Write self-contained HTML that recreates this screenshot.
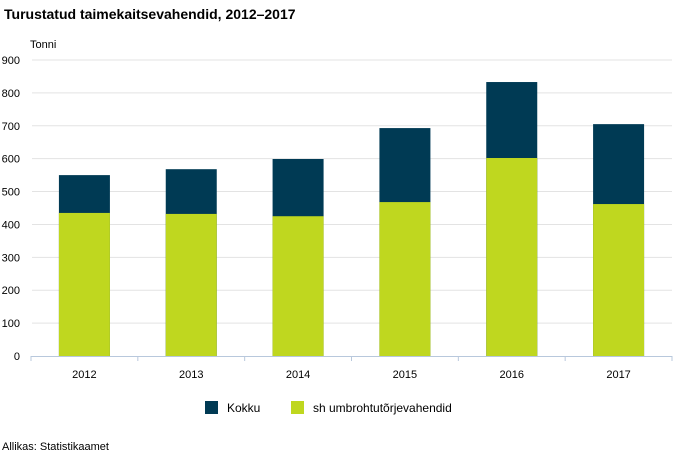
<!DOCTYPE html>
<html><head><meta charset="utf-8"><style>
body{margin:0;background:#fff;font-family:"Liberation Sans",Arial,sans-serif}
svg{display:block}
</style></head><body>
<svg id="c" width="685" height="456">
<text x="4" y="19" font-size="14" font-weight="bold" fill="#000">Turustatud taimekaitsevahendid, 2012–2017</text>
<text x="30" y="48" font-size="11" fill="#000">Tonni</text>
<g id="grid"></g><g id="bars"></g><g id="axis"></g>
<g>
<rect x="205" y="401" width="13" height="13" fill="#003a54"/>
<text x="227" y="412" font-size="12">Kokku</text>
<rect x="291" y="401" width="13" height="13" fill="#bfd71f"/>
<text x="313" y="412" font-size="12">sh umbrohtutõrjevahendid</text>
</g>
<text x="2" y="450" font-size="11">Allikas: Statistikaamet</text>
</svg>
<script>
const categories=["2012","2013","2014","2015","2016","2017"];
const totalValues=[550,568,599,693,833,705];
const herbicideValues=[435,432,425,468,602,462];
const yTicks=[0,100,200,300,400,500,600,700,800,900];
const NS="http://www.w3.org/2000/svg";
const x0=31,x1=672,y0=356,yTop=60,yMax=900;
const y=v=>y0-(v/yMax)*(y0-yTop);
const bw=(x1-x0)/categories.length;
const xc=i=>x0+bw*(i+0.5);
function mk(t,a,p){const e=document.createElementNS(NS,t);for(const k in a)e.setAttribute(k,a[k]);p.appendChild(e);return e;}
const g=document.getElementById('grid'),b=document.getElementById('bars'),ax=document.getElementById('axis');
yTicks.forEach(v=>{
 if(v>0){const l=mk('line',{x1:x0+1,x2:x1,y1:y(v),y2:y(v),stroke:'#e3e3e3','stroke-width':1},g);
 
 }
 const t=mk('text',{x:20,y:y(v)+4,'font-size':11,'text-anchor':'end'},g);t.textContent=v;
 
 
});
categories.forEach((c,i)=>{
 const r=mk('rect',{x:xc(i)-25.5,y:y(totalValues[i]),width:51,height:y0-y(totalValues[i]),fill:'#003a54'},b);
 
 
 const r2=mk('rect',{x:xc(i)-25.5,y:y(herbicideValues[i]),width:51,height:y0-y(herbicideValues[i]),fill:'#bfd71f'},b);
 
 
 const t=mk('text',{x:xc(i),y:378,'font-size':11,'text-anchor':'middle'},ax);t.textContent=c;
 
 
});
const al=mk('line',{x1:x0,x2:x1,y1:y0+0.5,y2:y0+0.5,stroke:'#b8c8dc','stroke-width':1},ax);


for(let i=0;i<=categories.length;i++){
 const tk=mk('line',{x1:x0+bw*i,x2:x0+bw*i,y1:y0,y2:y0+5,stroke:'#b8c8dc'},ax);
 
 
}
</script>
</body></html>
